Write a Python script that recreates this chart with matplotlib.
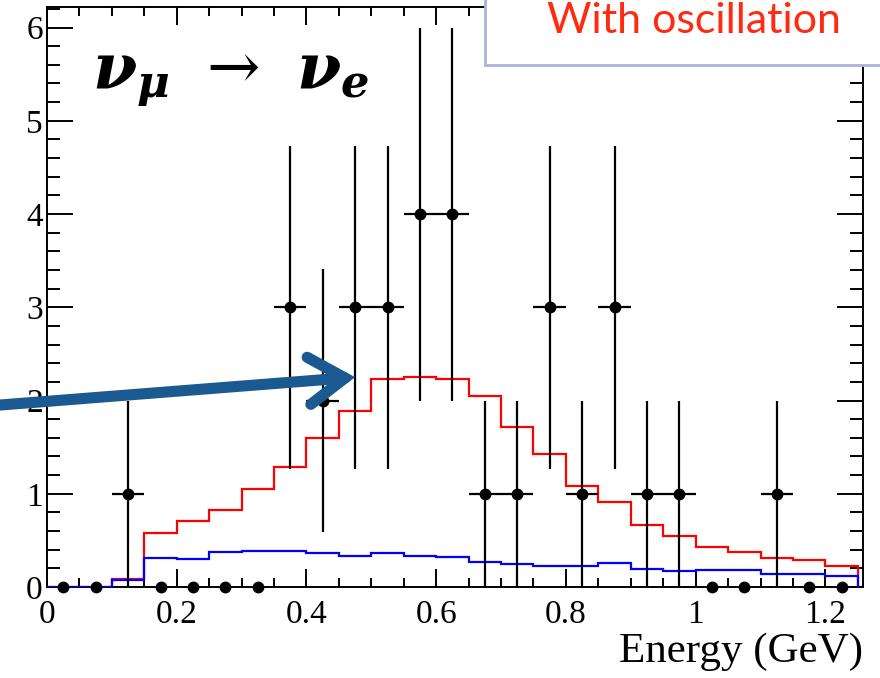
import numpy as np
import matplotlib
matplotlib.use('Agg')
import matplotlib.pyplot as plt
from matplotlib.patches import Rectangle
from matplotlib.ticker import MultipleLocator

plt.rcParams['font.family'] = ['Liberation Serif', 'DejaVu Serif']
plt.rcParams['mathtext.fontset'] = 'custom'
plt.rcParams['mathtext.it'] = 'DejaVu Serif:bold:italic'
plt.rcParams['mathtext.rm'] = 'DejaVu Serif'

# bins of 0.05 GeV from 0 to 1.25
bin_lo = 0.0
bin_w = 0.05
n_bins = 25

# observed events per bin
data_counts = [0, 0, 1, 0, 0, 0, 0, 3, 2, 3, 3, 4, 4,
               1, 1, 3, 1, 3, 1, 1, 0, 0, 1, 0, 0]
# expectation with oscillation (red)
pred_osc = [0.0, 0.0, 0.09, 0.58, 0.71, 0.825, 1.05, 1.29, 1.60, 1.89, 2.23, 2.25, 2.23,
            2.05, 1.72, 1.43, 1.085, 0.91, 0.67, 0.55, 0.43, 0.375, 0.31, 0.29, 0.23]
# background only (blue)
pred_bkg = [0.0, 0.0, 0.07, 0.315, 0.297, 0.38, 0.385, 0.385, 0.36, 0.33, 0.36, 0.33, 0.325,
            0.27, 0.25, 0.23, 0.22, 0.26, 0.196, 0.17, 0.18, 0.18, 0.136, 0.136, 0.12]

xtick_vals = [0, 0.2, 0.4, 0.6, 0.8, 1.0, 1.2]
xtick_labels = ['0', '0.2', '0.4', '0.6', '0.8', '1', '1.2']
ytick_vals = [0, 1, 2, 3, 4, 5, 6]

edges = bin_lo + bin_w * np.arange(n_bins + 1)
centers = 0.5 * (edges[:-1] + edges[1:])
counts = np.array(data_counts, dtype=float)

W, H = 880, 678
fig = plt.figure(figsize=(W / 100, H / 100), dpi=100)
ax = fig.add_axes([47 / W, 1 - 587 / H, (863 - 47) / W, (587 - 7) / H])

ax.stairs(pred_osc, edges, color='#ff0000', lw=1.6, zorder=3)
ax.stairs(pred_bkg, edges, color='#0000ff', lw=1.6, zorder=3)

nz = counts > 0
ax.errorbar(centers[nz], counts[nz], yerr=np.sqrt(counts[nz]), xerr=bin_w / 2,
            fmt='o', color='black', ms=7.5, elinewidth=1.6, capsize=0, zorder=4)
ax.plot(centers[~nz], counts[~nz], 'o', color='black', ms=7.5, clip_on=False, zorder=5)

ax.set_xlim(0, 1.258)
ax.set_ylim(0, 6.22)
ax.set_xticks(xtick_vals)
ax.set_xticklabels(xtick_labels)
ax.set_yticks(ytick_vals)
ax.xaxis.set_minor_locator(MultipleLocator(0.05))
ax.yaxis.set_minor_locator(MultipleLocator(0.2))
ax.tick_params(which='both', direction='in', top=True, right=True, labelsize=24, width=1.4)
ax.tick_params(axis='x', which='major', length=13, pad=9)
ax.tick_params(axis='x', which='minor', length=6.5)
ax.tick_params(axis='y', which='major', length=19, pad=3)
ax.tick_params(axis='y', which='minor', length=9.5)
for s in ax.spines.values():
    s.set_linewidth(1.4)

ax.set_xlabel('Energy (GeV)', fontsize=31, loc='right', labelpad=2)

ax.text(0.07, 5.35, r'$\nu_{\mu}\ \rightarrow\ \nu_{e}$', fontsize=46, color='black',
        ha='left', va='baseline', zorder=6)

# hand drawn arrow pointing at the red curve
ax.annotate('', xy=(0.475, 2.25), xytext=(-0.075, 1.95),
            arrowprops=dict(arrowstyle='->, head_length=2.6, head_width=1.7',
                            color='#1a5a90', lw=8, shrinkA=0, shrinkB=0,
                            joinstyle='miter'),
            annotation_clip=False, zorder=7)

# legend box at the top right, cut by the figure edge
box = Rectangle((485 / W, 1 - 65 / H), 0.6, 0.2, transform=fig.transFigure,
                facecolor='white', edgecolor='#a9b3d9', lw=2, zorder=10)
fig.add_artist(box)
fig.text(694 / W, 1 - 33 / H, 'With oscillation', color='#ff2a10', fontsize=31,
         family='Lato', ha='center', va='baseline', zorder=11)

fig.savefig('out.png', dpi=100)
